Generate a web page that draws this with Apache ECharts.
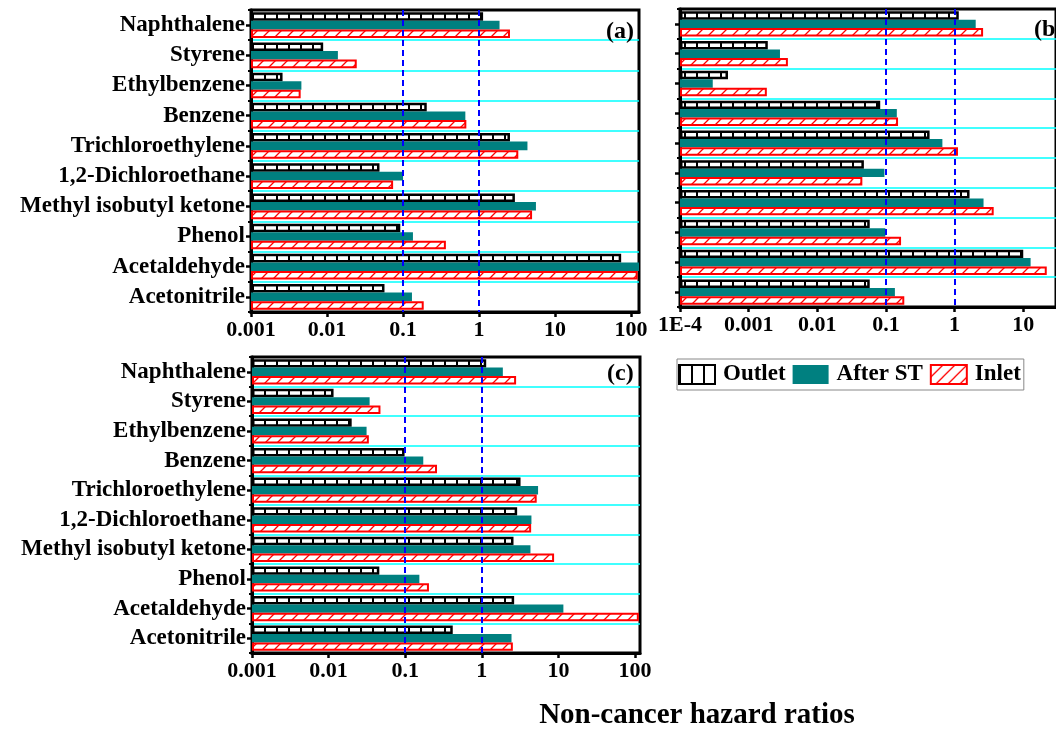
<!DOCTYPE html>
<html><head><meta charset="utf-8">
<script src="https://cdn.jsdelivr.net/npm/echarts@6/dist/echarts.min.js"></script>
<style>html,body{margin:0;padding:0;background:#fff}#c{width:1056px;height:731px}</style>
</head><body><div id="c"></div>
<script>
const categories = ['Naphthalene','Styrene','Ethylbenzene','Benzene','Trichloroethylene','1,2-Dichloroethane','Methyl isobutyl ketone','Phenol','Acetaldehyde','Acetonitrile'];
const seriesNames = ['Outlet','After ST','Inlet'];
// panel (a)
const aOutlet  = [1.13, 0.0089, 0.0026, 0.205, 2.55, 0.049, 2.96, 0.092, 74, 0.057];
const aAfterST = [1.86, 0.0139, 0.0046, 0.66, 4.33, 0.1, 5.6, 0.135, 140, 0.131];
const aInlet   = [2.55, 0.0246, 0.0045, 0.68, 3.28, 0.074, 4.98, 0.366, 122, 0.187];
// panel (b)
const bOutlet  = [1.15, 0.0019, 0.0005, 0.0825, 0.432, 0.0477, 1.65, 0.058, 10, 0.058];
const bAfterST = [2.03, 0.00286, 0.0003, 0.144, 0.664, 0.095, 2.64, 0.098, 12.8, 0.135];
const bInlet   = [2.6, 0.00373, 0.00184, 0.15, 1.12, 0.0453, 3.71, 0.166, 22, 0.185];
// panel (c)
const cOutlet  = [1.14, 0.0116, 0.02, 0.098, 3.2, 2.89, 2.59, 0.0459, 2.64, 0.417];
const cAfterST = [1.88, 0.0343, 0.0313, 0.172, 5.42, 4.44, 4.31, 0.153, 11.6, 2.44];
const cInlet   = [2.8, 0.0475, 0.0335, 0.26, 5.2, 4.4, 8.77, 0.204, 112, 2.54];
const tickExponents = [-4, -3, -2, -1, 0, 1, 2];
const tickLabels = ['1E-4', '0.001', '0.01', '0.1', '1', '10', '100'];
const refLines = [0.1, 1];
const panelLabels = ['(a)', '(b)', '(c)'];
const xTitle = 'Non-cancer hazard ratios';

const FONT = '"Liberation Serif", "Times New Roman", serif';

function makePattern(kind) {
  const cv = document.createElement('canvas');
  cv.width = 12; cv.height = 12;
  const g = cv.getContext('2d');
  g.fillStyle = '#fff'; g.fillRect(0, 0, 12, 12);
  if (kind === 'grid') {
    g.fillStyle = '#000'; g.fillRect(0, 0, 2, 12);
  } else {
    g.strokeStyle = '#ff0000'; g.lineWidth = 1.3;
    g.beginPath();
    g.moveTo(-2, 14); g.lineTo(14, -2);
    g.moveTo(-14, 14); g.lineTo(2, -2);
    g.moveTo(10, 14); g.lineTo(26, -2);
    g.stroke();
  }
  return { image: cv, repeat: 'repeat' };
}
const outletFill = makePattern('grid');
const inletFill = makePattern('hatch');

const panels = [
  { o: aOutlet, s: aAfterST, i: aInlet, grid: { left: 251, top: 10, width: 388, height: 302 }, min: 0.001, max: 127, labels: true, tag: [606, 32] },
  { o: bOutlet, s: bAfterST, i: bInlet, grid: { left: 680, top: 9, width: 390, height: 298 }, min: 0.0001, max: 30, labels: false, tag: [1034, 30] },
  { o: cOutlet, s: cAfterST, i: cInlet, grid: { left: 252, top: 357, width: 388, height: 296 }, min: 0.001, max: 116, labels: true, tag: [607, 374] }
];

function fmt(v) {
  const e = Math.log10(v);
  const r = Math.round(e);
  if (Math.abs(e - r) > 1e-6) return '';
  const k = tickExponents.indexOf(r);
  return k >= 0 ? tickLabels[k] : '';
}

const grids = [], xAxes = [], yAxes = [], series = [], graphics = [];
panels.forEach((p, gi) => {
  grids.push(Object.assign({ show: true, borderColor: '#000', borderWidth: 3, backgroundColor: '#fff' }, p.grid));
  xAxes.push({
    type: 'log', logBase: 10, gridIndex: gi, min: p.min, max: p.max, startValue: p.min,
    axisLine: { show: true, lineStyle: { color: '#000', width: 3 } },
    axisTick: { show: true, inside: false, length: 5, lineStyle: { color: '#000', width: 2.5 } },
    axisLabel: { show: true, formatter: fmt, margin: 7, fontFamily: FONT, fontWeight: 'bold', fontSize: 22, color: '#000', showMaxLabel: false },
    splitLine: { show: false }
  });
  yAxes.push({
    type: 'category', gridIndex: gi, data: categories, inverse: true, position: 'left',
    axisLine: { show: true, lineStyle: { color: '#000', width: 3 } },
    axisTick: { show: true, alignWithLabel: true, interval: 0, length: 5, lineStyle: { color: '#000', width: 2.5 } },
    axisLabel: { show: p.labels, interval: 0, margin: 6, fontFamily: FONT, fontWeight: 'bold', fontSize: 23, color: '#000' },
    splitLine: { show: true, interval: 0, showMinLine: false, showMaxLine: false, lineStyle: { color: '#00FFFF', width: 1.5 } }
  });
  yAxes.push({
    type: 'category', gridIndex: gi, data: categories, inverse: true, position: 'left', offset: 0,
    axisLine: { show: false },
    axisTick: { show: true, alignWithLabel: false, interval: 0, length: 3, lineStyle: { color: '#000', width: 2 } },
    axisLabel: { show: false, interval: 0 },
    splitLine: { show: false },
    splitArea: { show: false }
  });
  const common = { type: 'bar', xAxisIndex: gi, yAxisIndex: gi * 2, barGap: '0%', barCategoryGap: '15%', animation: false, clip: true };
  series.push(Object.assign({}, common, {
    name: seriesNames[0], data: p.o,
    itemStyle: { color: outletFill, borderColor: '#000', borderWidth: 2.5 },
    markLine: {
      silent: true, symbol: ['none', 'none'], label: { show: false }, animation: false, z: 10,
      lineStyle: { color: '#0000FF', type: [6, 4], width: 2 },
      data: refLines.map(v => ({ xAxis: v }))
    }
  }));
  series.push(Object.assign({}, common, {
    name: seriesNames[1], data: p.s,
    itemStyle: { color: '#008080', borderWidth: 0 }
  }));
  series.push(Object.assign({}, common, {
    name: seriesNames[2], data: p.i,
    itemStyle: { color: inletFill, borderColor: '#ff0000', borderWidth: 2 }
  }));
  graphics.push({
    type: 'text', x: p.tag[0], y: p.tag[1], z: 100,
    style: { text: panelLabels[gi], font: 'bold 24px ' + FONT, fill: '#000', textAlign: 'left', textVerticalAlign: 'middle' }
  });
});
graphics.push({
  type: 'text', x: 697, y: 716, z: 100,
  style: { text: xTitle, font: 'bold 29px ' + FONT, fill: '#000', textAlign: 'center', textVerticalAlign: 'middle' }
});

const chart = echarts.init(document.getElementById('c'), null, { renderer: 'canvas' });
chart.setOption({
  animation: false,
  backgroundColor: '#fff',
  grid: grids,
  xAxis: xAxes,
  yAxis: yAxes,
  series: series,
  graphic: graphics,
  legend: {
    data: seriesNames, left: 677, top: 359, orient: 'horizontal',
    itemWidth: 36, itemHeight: 19, itemGap: 7, padding: [4, 3, 4, 1],
    borderColor: '#888', borderWidth: 1, icon: 'rect',
    selectedMode: false,
    textStyle: { fontFamily: FONT, fontWeight: 'bold', fontSize: 23, color: '#000', padding: [0, 0, 0, 3] }
  }
});
</script>
</body></html>
